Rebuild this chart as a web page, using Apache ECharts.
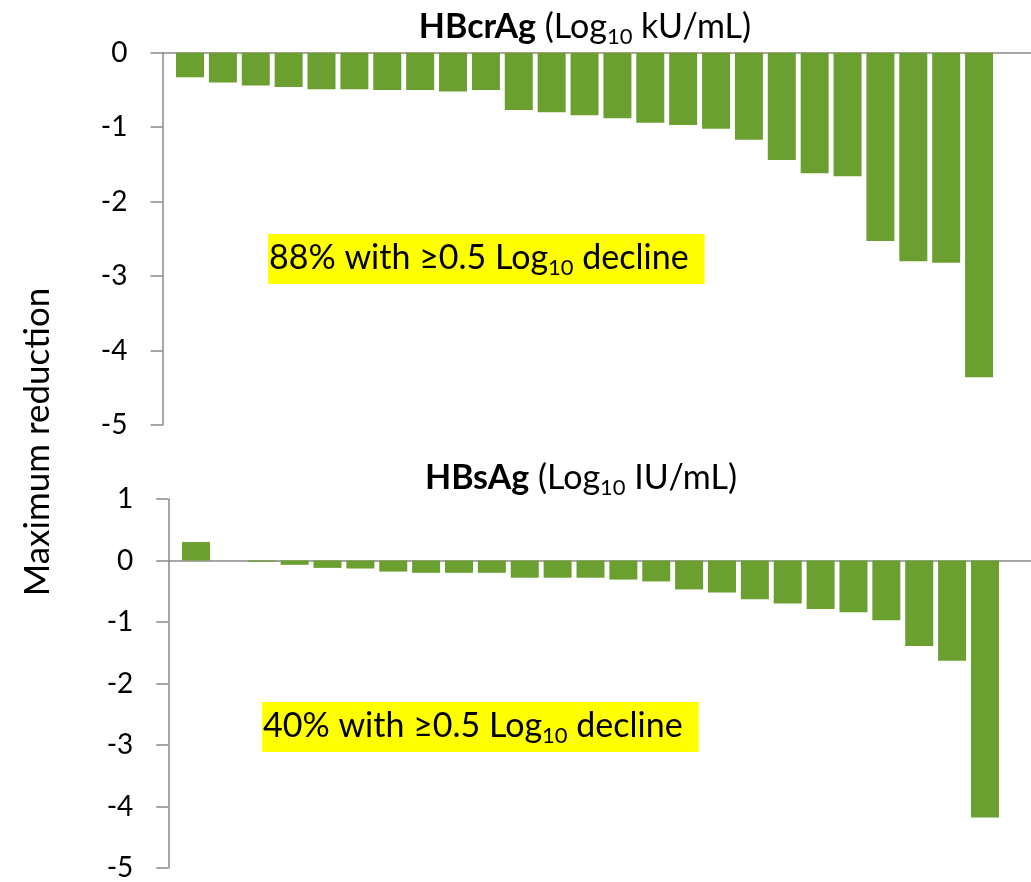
<!DOCTYPE html>
<html>
<head>
<meta charset="utf-8">
<script src="https://cdn.jsdelivr.net/npm/echarts@6/dist/echarts.min.js"></script>
<style>
html,body{margin:0;padding:0;background:#fff;}
#chart{width:1031px;height:882px;}
</style>
</head>
<body>
<div id="chart"></div>
<script>
// Patients (ordered by reduction)
var patients = [1,2,3,4,5,6,7,8,9,10,11,12,13,14,15,16,17,18,19,20,21,22,23,24,25];
// HBcrAg maximum reduction (Log10 kU/mL)
var hbcrag = [-0.33,-0.40,-0.44,-0.46,-0.49,-0.49,-0.50,-0.50,-0.52,-0.50,-0.77,-0.80,-0.84,-0.88,-0.94,-0.97,-1.02,-1.17,-1.44,-1.62,-1.66,-2.53,-2.80,-2.82,-4.36];
// HBsAg maximum reduction (Log10 IU/mL)
var hbsag = [0.30,0.00,-0.02,-0.07,-0.12,-0.13,-0.18,-0.20,-0.20,-0.20,-0.28,-0.28,-0.28,-0.31,-0.34,-0.47,-0.52,-0.63,-0.70,-0.79,-0.84,-0.97,-1.39,-1.63,-4.18];
var yTicksTop = [-5,-4,-3,-2,-1,0];
var yTicksBottom = [-5,-4,-3,-2,-1,0,1];
var yAxisName = 'Maximum reduction';

var FONT = 'Lato, "Open Sans", sans-serif';
var GREEN = '#6b9f2f';
var AXIS = '#898989';

function pairs(vals){ return patients.map(function(p,i){ return [p, vals[i]]; }); }

var chart = echarts.init(document.getElementById('chart'), null, {renderer:'canvas'});

function xAx(idx, min, max){
  return {gridIndex: idx, type:'value', min:min, max:max,
    axisLine:{show:true, onZero:true, lineStyle:{color:AXIS, width:1.5}},
    axisTick:{show:false}, axisLabel:{show:false}, splitLine:{show:false}};
}
function yAx(idx, min, max){
  return {gridIndex: idx, type:'value', min:min, max:max, interval:1,
    axisLine:{show:true, onZero:false, lineStyle:{color:AXIS, width:1.5}},
    axisTick:{show:true, length:12, lineStyle:{color:AXIS, width:1.5}},
    axisLabel:{fontFamily:FONT, fontSize:28, color:'#000', margin:35},
    splitLine:{show:false}};
}
var textRich = function(size){
  return {
    b:{fontFamily:FONT, fontSize:size, fontWeight:'bold', fill:'#000'},
    n:{fontFamily:FONT, fontSize:size, fill:'#000'},
    s:{fontFamily:FONT, fontSize:Math.round(size*0.66), fill:'#000', padding:[Math.round(size*0.6),0,0,0]}
  };
};

var option = {
  animation:false,
  backgroundColor:'#fff',
  grid:[
    {left:162.5, right:0, top:52.7, height:372.3},
    {left:168.3, right:0, top:499, height:372}
  ],
  xAxis:[ xAx(0, 0.163, 26.58), xAx(1, 0.157, 26.40) ],
  yAxis:[ yAx(0, -5, 0), yAx(1, -5, 1) ],
  series:[
    {type:'bar', xAxisIndex:0, yAxisIndex:0, data:pairs(hbcrag), barWidth:28, itemStyle:{color:GREEN}},
    {type:'bar', xAxisIndex:1, yAxisIndex:1, data:pairs(hbsag), barWidth:28, itemStyle:{color:GREEN}}
  ],
  graphic:[
    {type:'text', x:585, y:27, style:{text:'{b|HBcrAg}{n| (Log}{s|10}{n| kU/mL)}', rich:textRich(34), align:'center', verticalAlign:'middle'}},
    {type:'text', x:581, y:478, style:{text:'{b|HBsAg}{n| (Log}{s|10}{n| IU/mL)}', rich:textRich(34), align:'center', verticalAlign:'middle'}},
    {type:'text', x:268, y:234, style:{text:'{n|88% with \u22650.5 Log}{s|10}{n| decline}', rich:textRich(34), align:'left', verticalAlign:'top', backgroundColor:'#ffff00', padding:[3,16,5,1]}},
    {type:'text', x:262, y:702, style:{text:'{n|40% with \u22650.5 Log}{s|10}{n| decline}', rich:textRich(34), align:'left', verticalAlign:'top', backgroundColor:'#ffff00', padding:[3,16,5,1]}},
    {type:'text', x:38, y:442, rotation:Math.PI/2, style:{text:yAxisName, font:'35px ' + FONT, fill:'#000', align:'center', verticalAlign:'middle'}}
  ]
};
chart.setOption(option);
</script>
</body>
</html>
